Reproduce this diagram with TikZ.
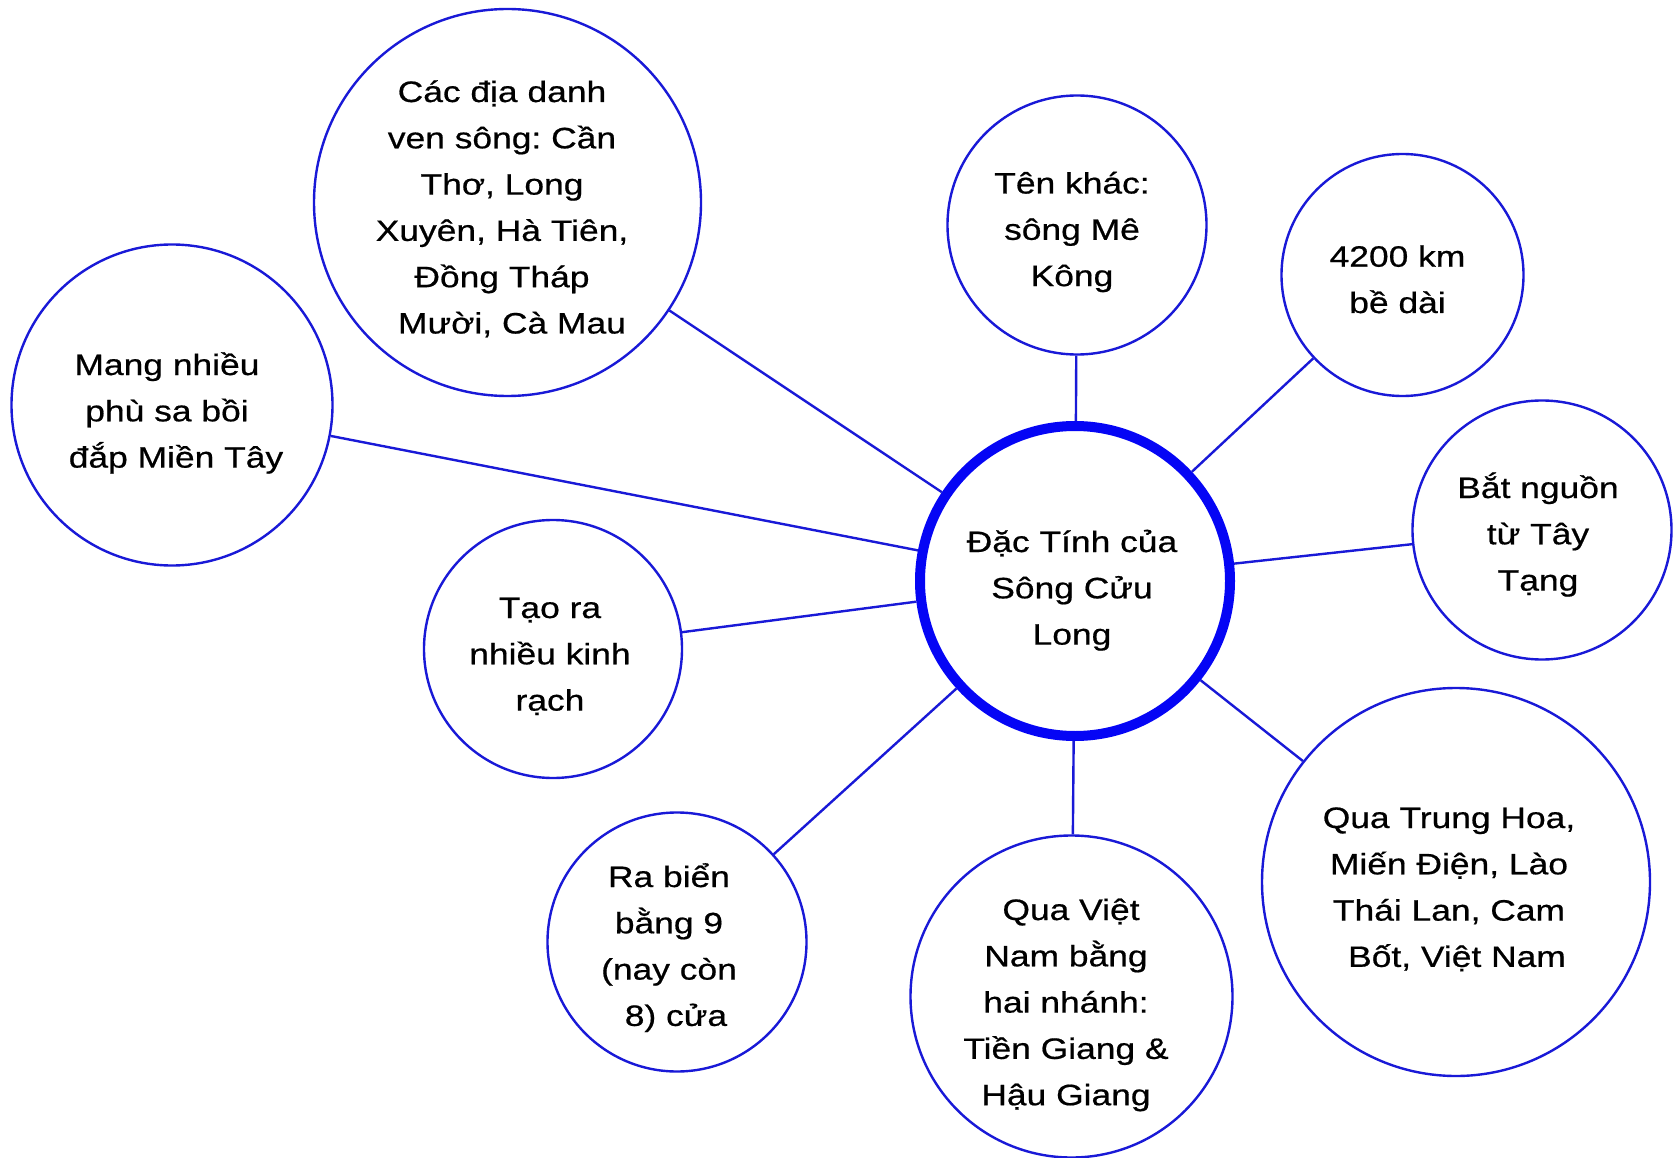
\documentclass[tikz,border=0pt]{standalone}
\usepackage{fontspec}
\setmainfont[FakeStretch=1.2,FakeBold=0.6]{Liberation Sans}
\definecolor{ringblue}{RGB}{5,5,245}
\definecolor{thinblue}{RGB}{25,25,215}
\newcommand\bubtext[1]{\parbox[t]{420pt}{\centering #1}}
\tikzset{
  bubble/.style={circle, draw=thinblue, line width=2.4pt, inner sep=0pt, minimum size=#1},
  hub/.style={circle, draw=ringblue, line width=10pt, inner sep=0pt, minimum size=#1},
  lbl/.style={anchor=base, inner sep=0pt, font=\fontsize{29.5}{46.3}\selectfont\frenchspacing},
  link/.style={draw=thinblue, line width=2.4pt},
}
\begin{document}
\begin{tikzpicture}[x=1pt, y=-1pt]
\useasboundingbox (0,0) rectangle (1674,1158);
\fill[white] (0,0) rectangle (1674,1158);

% circles
\node[hub=310pt]    (hubc) at (1075,581) {};
\node[bubble=387pt] (cac)  at (507.5,202.5) {};
\node[bubble=321pt] (mang) at (172,405) {};
\node[bubble=388pt] (qth)  at (1456,882) {};
\node[bubble=322pt] (qvn)  at (1071.5,996.5) {};
\node[bubble=259pt] (rab)  at (677,942) {};
\node[bubble=258pt] (tao)  at (553,649) {};
\node[bubble=259pt] (bat)  at (1542,530) {};
\node[bubble=259pt] (ten)  at (1077,225) {};
\node[bubble=242pt] (dai)  at (1402.5,275) {};

% connectors
\draw[link] (hubc) -- (cac);
\draw[link] (hubc) -- (mang);
\draw[link] (hubc) -- (qth);
\draw[link] (hubc) -- (qvn);
\draw[link] (hubc) -- (rab);
\draw[link] (hubc) -- (tao);
\draw[link] (hubc) -- (bat);
\draw[link] (hubc) -- (ten);
\draw[link] (hubc) -- (dai);

% texts
\node[lbl] (thub) at (1072,552) {\bubtext{Đặc Tính của\\Sông Cửu\\Long}};
\node[lbl] (tcac) at (502,102) {\bubtext{Các địa danh\\ven sông: Cần\\Thơ, Long\\Xuyên, Hà Tiên,\\Đồng Tháp\\\hspace*{20pt}Mười, Cà Mau}};
\node[lbl] (tmang) at (167,375) {\bubtext{Mang nhiều\\phù sa bồi\\\hspace*{18pt}đắp Miền Tây}};
\node[lbl] (tqth) at (1449,828) {\bubtext{Qua Trung Hoa,\\Miến Điện, Lào\\Thái Lan, Cam\\\hspace*{16pt}Bốt, Việt Nam}};
\node[lbl] (tqvn) at (1066,920) {\bubtext{\hspace*{10pt}Qua Việt\\Nam bằng\\hai nhánh:\\Tiền Giang \&\\Hậu Giang}};
\node[lbl] (trab) at (669,887) {\bubtext{Ra biển\\bằng 9\\(nay còn\\\hspace*{14pt}8) cửa}};
\node[lbl] (ttao) at (550,618) {\bubtext{Tạo ra\\nhiều kinh\hspace*{12pt}\\rạch}};
\node[lbl] (tbat) at (1538,498) {\bubtext{Bắt nguồn\hspace*{10pt}\\từ Tây\\Tạng}};
\node[lbl] (tten) at (1072,193.5) {\bubtext{Tên khác:\\sông Mê\\Kông}};
\node[lbl] (tdai) at (1397.5,266.7) {\bubtext{4200 km\\bề dài}};
\end{tikzpicture}
\end{document}
